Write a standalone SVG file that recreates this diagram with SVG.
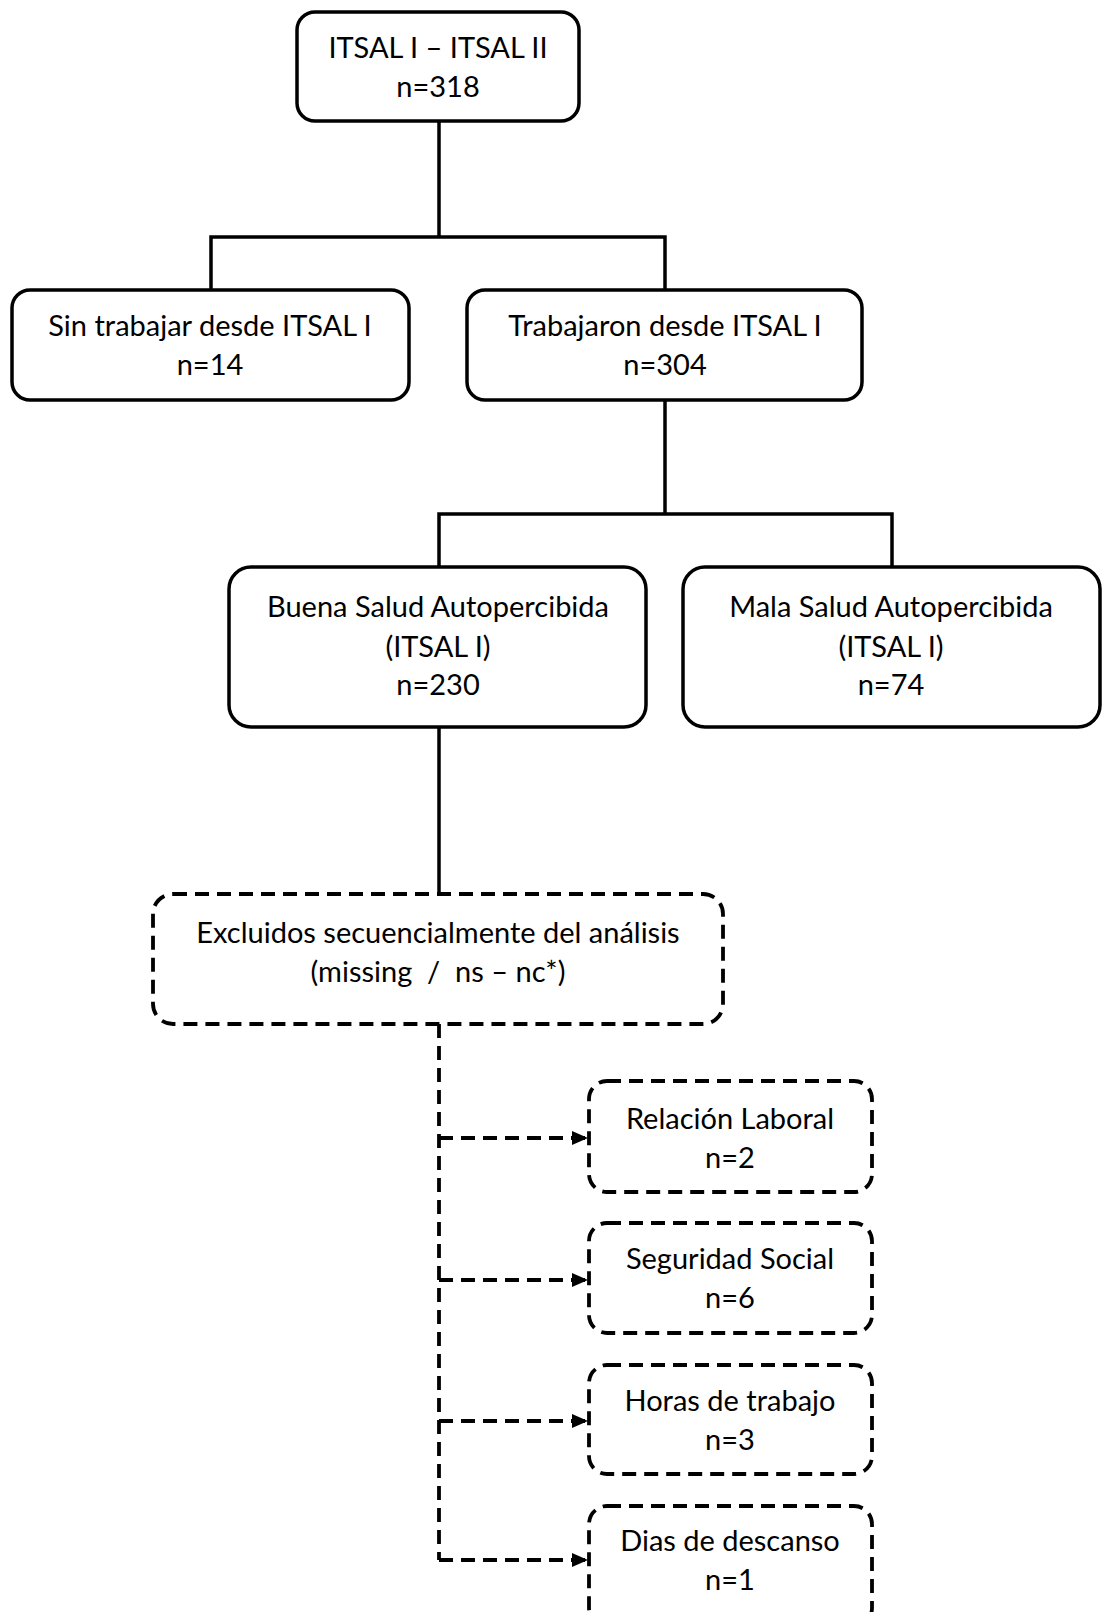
<svg xmlns="http://www.w3.org/2000/svg" width="1104" height="1612" viewBox="0 0 1104 1612">
<style>
.box{fill:#fff;stroke:#000;stroke-width:3.5}
.dbox{fill:#fff;stroke:#000;stroke-width:3.8;stroke-dasharray:14 8}
.ln{fill:none;stroke:#000;stroke-width:3.5}
.dln{fill:none;stroke:#000;stroke-width:3.8;stroke-dasharray:14 8}
text{font-family:Lato,"Open Sans","Liberation Sans",sans-serif;font-size:29px;fill:#000;text-anchor:middle;white-space:pre}
</style>
<defs>
<marker id="arr" markerWidth="16" markerHeight="14" refX="15" refY="7" orient="auto" markerUnits="userSpaceOnUse">
<path d="M0,0 L16,7 L0,14 Z" fill="#000"/>
</marker>
</defs>
<rect width="1104" height="1612" fill="#fff"/>
<g id="connectors">
<path class="ln" d="M439,121 V237 M211,290 V237 H665 V290"/>
<path class="ln" d="M665,400 V514 M439,567 V514 H892 V567"/>
<path class="ln" d="M439,727 V894"/>
<path class="dln" d="M439,1024 V1560"/>
<path class="dln" d="M439,1138 H587" marker-end="url(#arr)"/>
<path class="dln" d="M439,1280 H587" marker-end="url(#arr)"/>
<path class="dln" d="M439,1421 H587" marker-end="url(#arr)"/>
<path class="dln" d="M439,1560 H587" marker-end="url(#arr)"/>
</g>
<g id="n_root">
<rect class="box" x="297" y="12" width="282" height="109" rx="18"/>
<text x="438" y="58">ITSAL I – ITSAL II</text>
<text x="438" y="97">n=318</text>
</g>
<g id="n_sin">
<rect class="box" x="12" y="290" width="397" height="110" rx="18"/>
<text x="210" y="336">Sin trabajar desde ITSAL I</text>
<text x="210" y="375">n=14</text>
</g>
<g id="n_trab">
<rect class="box" x="467" y="290" width="395" height="110" rx="18"/>
<text x="665" y="336">Trabajaron desde ITSAL I</text>
<text x="665" y="375">n=304</text>
</g>
<g id="n_buena">
<rect class="box" x="229" y="567" width="417" height="160" rx="22"/>
<text x="438" y="617">Buena Salud Autopercibida</text>
<text x="438" y="657">(ITSAL I)</text>
<text x="438" y="695">n=230</text>
</g>
<g id="n_mala">
<rect class="box" x="683" y="567" width="417" height="160" rx="22"/>
<text x="891" y="617">Mala Salud Autopercibida</text>
<text x="891" y="657">(ITSAL I)</text>
<text x="891" y="695">n=74</text>
</g>
<g id="n_excl">
<rect class="dbox" x="153" y="894" width="570" height="130" rx="20"/>
<text x="438" y="943">Excluidos secuencialmente del análisis</text>
<text x="438" y="982">(missing  /  ns – nc*)</text>
</g>
<g id="n_rel">
<rect class="dbox" x="589" y="1081" width="283" height="111" rx="18"/>
<text x="730" y="1129">Relación Laboral</text>
<text x="730" y="1168">n=2</text>
</g>
<g id="n_seg">
<rect class="dbox" x="589" y="1223" width="283" height="110" rx="18"/>
<text x="730" y="1269">Seguridad Social</text>
<text x="730" y="1308">n=6</text>
</g>
<g id="n_horas">
<rect class="dbox" x="589" y="1365" width="283" height="109" rx="18"/>
<text x="730" y="1411">Horas de trabajo</text>
<text x="730" y="1450">n=3</text>
</g>
<g id="n_dias">
<rect class="dbox" x="589" y="1506" width="283" height="120" rx="18"/>
<text x="730" y="1551">Dias de descanso</text>
<text x="730" y="1590">n=1</text>
</g>
</svg>
